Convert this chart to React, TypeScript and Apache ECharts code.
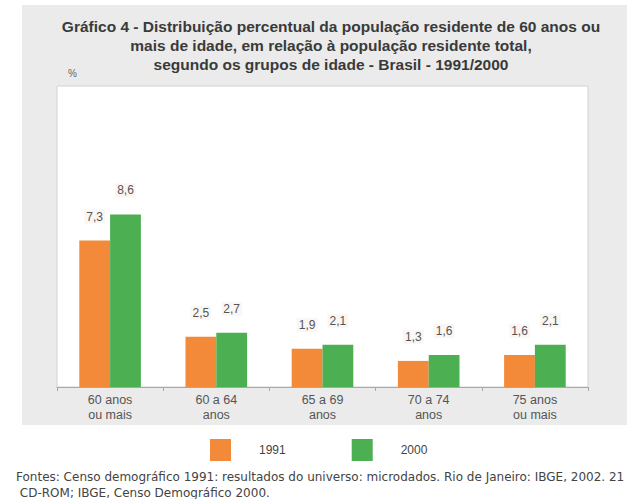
import React, { useEffect, useRef } from "react";
import * as echarts from "echarts";

const categories = ["60 anos\nou mais", "60 a 64\nanos", "65 a 69\nanos", "70 a 74\nanos", "75 anos\nou mais"];
const values1991 = [7.3, 2.5, 1.9, 1.3, 1.6];
const values2000 = [8.6, 2.7, 2.1, 1.6, 2.1];
const seriesNames = ["1991", "2000"];
const titleLines = [
  "Gráfico 4 - Distribuição percentual da população residente de 60 anos ou",
  "mais de idade, em relação à população residente total,",
  "segundo os grupos de idade - Brasil - 1991/2000",
];
const footLines = [
  "Fontes: Censo demográfico 1991: resultados do universo: microdados. Rio de Janeiro: IBGE, 2002. 21",
  " CD-ROM; IBGE, Censo Demográfico 2000.",
];

const FONT = "'Liberation Sans', Arial, sans-serif";

export default function App() {
  const ref = useRef<HTMLDivElement>(null);
  useEffect(() => {
    document.body.style.margin = "0";
    const chart = echarts.init(ref.current!, null, { renderer: "svg" });
    const label = {
      show: true,
      position: "top",
      distance: 17,
      fontSize: 12,
      fontFamily: FONT,
      color: "#555",
      backgroundColor: "rgba(244,236,228,0.45)",
      padding: [1, 2],
      formatter: (p: any) => String(p.value).replace(".", ","),
    };
    chart.setOption({
      animation: false,
      backgroundColor: "#ffffff",
      textStyle: { fontFamily: FONT },
      title: {
        text: titleLines.join("\n"),
        left: 326,
        textAlign: "center",
        top: 12,
        textStyle: { fontSize: 15.5, fontWeight: "bold", color: "#3a3a3a", lineHeight: 19, fontFamily: FONT },
      },
      graphic: [
        { type: "rect", z: -10, silent: true, shape: { x: 22, y: 5, width: 605, height: 420 }, style: { fill: "#ebebeb" } },
        { type: "text", x: 68, y: 73, style: { text: "%", fontSize: 10, fill: "#666", fontFamily: FONT, textVerticalAlign: "middle" } },
        {
          type: "text",
          x: 16,
          y: 469,
          style: { text: footLines.join("\n"), fontSize: 12, lineHeight: 16, fill: "#444", fontFamily: "'DejaVu Sans', sans-serif" },
        },
      ],
      legend: {
        left: 205,
        top: 434,
        itemWidth: 21,
        itemHeight: 22,
        itemGap: 66,
        icon: "rect",
        data: seriesNames,
        textStyle: { fontSize: 12, color: "#444", padding: [0, 0, 0, 23], fontFamily: FONT },
      },
      grid: {
        left: 57,
        right: 43,
        top: 86,
        bottom: 112,
        show: true,
        backgroundColor: "#ffffff",
        borderColor: "#d2d2d2",
        borderWidth: 1,
      },
      xAxis: {
        type: "category",
        data: categories,
        axisLine: { lineStyle: { color: "#a8a8a8" } },
        axisTick: { show: true, length: 4, lineStyle: { color: "#a8a8a8" } },
        axisLabel: { fontSize: 12.5, color: "#555", lineHeight: 15, margin: 5, fontFamily: FONT },
      },
      yAxis: {
        type: "value",
        min: 0,
        max: 15,
        show: false,
        splitLine: { show: false },
      },
      series: [
        {
          name: seriesNames[0],
          type: "bar",
          data: values1991,
          barGap: "0%",
          barCategoryGap: "42%",
          itemStyle: { color: "#f28a3a" },
          label,
        },
        {
          name: seriesNames[1],
          type: "bar",
          data: values2000,
          itemStyle: { color: "#4caf52" },
          label,
        },
      ],
    });
    return () => chart.dispose();
  }, []);
  return <div ref={ref} style={{ width: 631, height: 499, position: "absolute", left: 0, top: 0 }} />;
}
